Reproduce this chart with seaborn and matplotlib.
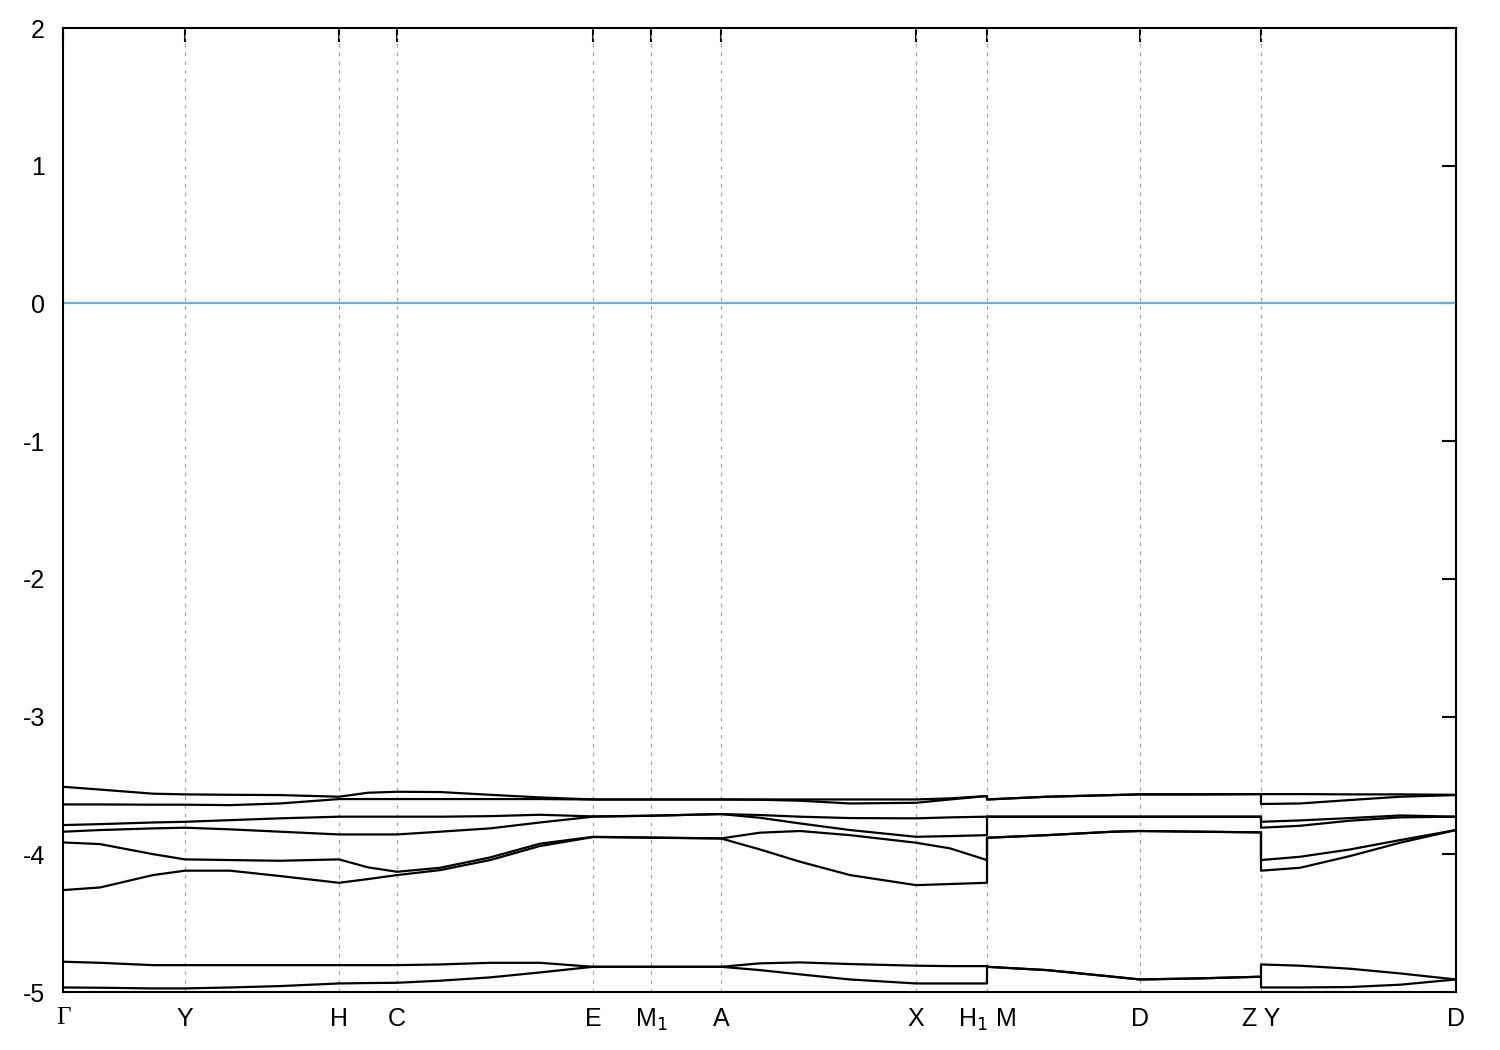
import numpy as np
import pandas as pd
import matplotlib
matplotlib.use("Agg")
import matplotlib.pyplot as plt
import seaborn as sns

# path coordinate (arbitrary units) of sampled k-points along the path
k = [0, 37, 90, 122, 167, 217, 276, 305, 334, 377, 427, 477, 530, 588, 658,
     697, 737, 787, 853, 887, 924, 924, 984, 1050, 1077, 1137, 1198, 1198,
     1237, 1287, 1337, 1393]

band1 = [-3.51, -3.53, -3.56, -3.565, -3.568, -3.57, -3.582, -3.553, -3.546, -3.548,
         -3.568, -3.587, -3.602, -3.602, -3.602, -3.602, -3.602, -3.602, -3.602, -3.594,
         -3.577, -3.602, -3.582, -3.57, -3.565, -3.565, -3.563, -3.563, -3.563, -3.565,
         -3.565, -3.568]
band2 = [-3.638, -3.638, -3.64, -3.64, -3.643, -3.631, -3.599, -3.599, -3.599, -3.599,
         -3.599, -3.599, -3.602, -3.602, -3.602, -3.604, -3.611, -3.631, -3.626, -3.602,
         -3.577, -3.602, -3.582, -3.57, -3.565, -3.565, -3.563, -3.635, -3.631, -3.606,
         -3.582, -3.57]
band3 = [-3.788, -3.781, -3.769, -3.764, -3.752, -3.739, -3.727, -3.727, -3.727, -3.727,
         -3.723, -3.713, -3.725, -3.72, -3.708, -3.715, -3.727, -3.737, -3.739, -3.732,
         -3.727, -3.727, -3.727, -3.727, -3.727, -3.727, -3.727, -3.764, -3.754, -3.737,
         -3.718, -3.727]
band4 = [-3.836, -3.824, -3.812, -3.807, -3.819, -3.836, -3.856, -3.856, -3.856, -3.836,
         -3.812, -3.769, -3.727, -3.72, -3.708, -3.735, -3.776, -3.824, -3.873, -3.868,
         -3.861, -3.727, -3.727, -3.727, -3.727, -3.727, -3.727, -3.807, -3.793, -3.756,
         -3.732, -3.727]
band5 = [-3.914, -3.926, -3.999, -4.037, -4.042, -4.047, -4.037, -4.095, -4.127, -4.098,
         -4.023, -3.923, -3.873, -3.878, -3.885, -3.843, -3.831, -3.861, -3.916, -3.957,
         -4.042, -3.88, -3.861, -3.836, -3.831, -3.836, -3.841, -4.042, -4.018, -3.965,
         -3.897, -3.824]
band6 = [-4.26, -4.241, -4.151, -4.119, -4.119, -4.158, -4.207, -4.18, -4.151, -4.115,
         -4.042, -3.94, -3.875, -3.88, -3.885, -3.965, -4.054, -4.151, -4.224, -4.216,
         -4.207, -3.88, -3.861, -3.836, -3.831, -3.836, -3.841, -4.119, -4.098, -4.013,
         -3.916, -3.824]
band7 = [-4.78, -4.788, -4.805, -4.805, -4.805, -4.805, -4.805, -4.805, -4.805, -4.80,
         -4.788, -4.788, -4.817, -4.817, -4.817, -4.792, -4.785, -4.797, -4.809, -4.812,
         -4.812, -4.817, -4.841, -4.889, -4.909, -4.901, -4.889, -4.80, -4.809, -4.831,
         -4.865, -4.909]
band8 = [-4.967, -4.969, -4.974, -4.974, -4.967, -4.957, -4.938, -4.935, -4.933, -4.918,
         -4.894, -4.858, -4.817, -4.817, -4.817, -4.841, -4.872, -4.909, -4.938, -4.938,
         -4.938, -4.817, -4.841, -4.889, -4.909, -4.901, -4.889, -4.967, -4.967, -4.964,
         -4.947, -4.909]

# high-symmetry points
hs_k = [0, 122, 276, 334, 530, 588, 658, 853, 924, 1077, 1198, 1393]
hs_labels = ["Γ", "Y", "H", "C", "E", "M$_1$", "A", "X", "H$_1$ M", "D", "Z Y", "D"]

y_ticks = [-5, -4, -3, -2, -1, 0, 1, 2]

bands = [band1, band2, band3, band4, band5, band6, band7, band8]
df = pd.DataFrame({
    "k": np.tile(k, len(bands)),
    "E": np.concatenate(bands),
    "band": np.repeat(np.arange(len(bands)), len(k)),
})

sns.set_style("white")
plt.rcParams["font.family"] = ["Liberation Sans", "DejaVu Sans"]

fig = plt.figure(figsize=(15, 10.5), dpi=100)
ax = fig.add_axes([63 / 1500, 1 - 992 / 1050, (1456 - 63) / 1500, (992 - 28) / 1050])

# vertical dashed lines at interior high-symmetry points
for xv in hs_k[1:-1]:
    ax.axvline(xv, color="#a8a8a8", lw=0.9, ls=(0, (3, 4)), zorder=1)

# Fermi level
ax.axhline(0, color="#56b4e9", lw=1.6, zorder=2)

sns.lineplot(data=df, x="k", y="E", units="band", estimator=None, sort=False,
             color="black", lw=1.6, ax=ax, zorder=3, legend=False)

ax.set_xlim(hs_k[0], hs_k[-1])
ax.set_ylim(-5, 2)
ax.set_xticks(hs_k)
ax.set_xticklabels(hs_labels)
ax.set_yticks(y_ticks)
ax.set_yticklabels([str(v) for v in y_ticks])
ax.set_xlabel("")
ax.set_ylabel("")

for s in ax.spines.values():
    s.set_visible(True)
    s.set_color("black")
    s.set_linewidth(1.5)

ax.tick_params(axis="both", which="major", direction="in", length=10, width=1.5,
               top=True, right=True, labelsize=18, colors="black")
ax.tick_params(axis="x", pad=11)
ax.tick_params(axis="y", pad=13)

for lab in ax.get_xticklabels():
    if lab.get_text() == "Γ":
        lab.set_fontfamily(["Liberation Serif", "DejaVu Serif"])

fig.savefig("out.png", dpi=100, facecolor="white")
